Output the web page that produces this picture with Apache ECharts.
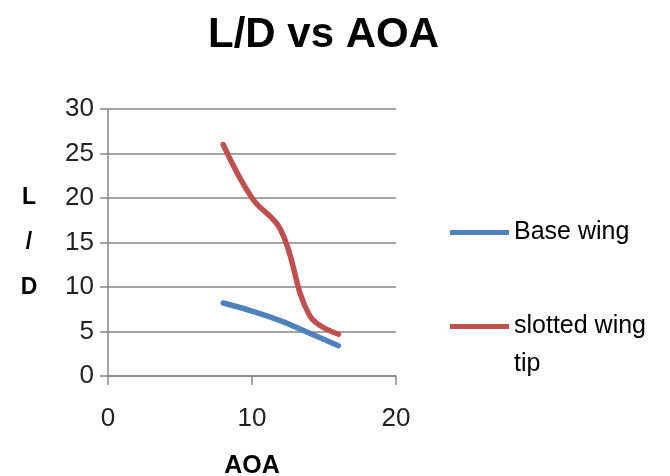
<!DOCTYPE html>
<html>
<head>
<meta charset="utf-8">
<script src="https://cdn.jsdelivr.net/npm/echarts@6/dist/echarts.min.js"></script>
<style>
  html, body { margin: 0; padding: 0; background: #fff; }
  #chart { width: 670px; height: 476px; }
</style>
</head>
<body>
<div id="chart"></div>
<script>
// Angle of attack (x) and lift-to-drag ratio for each wing
const aoa = [8, 10, 12, 14, 16];
const baseWing = [8.2, 7.3, 6.2, 4.8, 3.4];
const slottedWingTip = [26, 20, 16.4, 6.8, 4.7];
const xTicks = [0, 10, 20];
const yTicks = [0, 5, 10, 15, 20, 25, 30];

const FONT = '"Liberation Sans", Arial, sans-serif';
const AXIS_GREY = '#868686';

const chart = echarts.init(document.getElementById('chart'), null, { renderer: 'canvas' });

const pairs = ys => aoa.map((x, i) => [x, ys[i]]);

chart.setOption({
  animation: false,
  backgroundColor: '#ffffff',
  title: {
    text: 'L/D vs AOA',
    left: 208,
    top: 14,
    padding: 0,
    textStyle: { fontFamily: FONT, fontWeight: 'bold', fontSize: 42, color: '#000' }
  },
  grid: { left: 108, right: 274, top: 109, bottom: 100, containLabel: false, outerBoundsMode: 'none' },
  xAxis: {
    type: 'value',
    min: xTicks[0],
    max: xTicks[xTicks.length - 1],
    interval: xTicks[1] - xTicks[0],
    name: 'AOA',
    nameLocation: 'middle',
    nameGap: 78,
    nameTextStyle: { fontFamily: FONT, fontWeight: 'bold', fontSize: 25, color: '#000' },
    axisLine: { show: true, lineStyle: { color: AXIS_GREY, width: 1.5 } },
    axisTick: { show: true, length: 9, inside: false, lineStyle: { color: AXIS_GREY, width: 1.5 } },
    axisLabel: { fontFamily: FONT, fontSize: 26, color: '#222', margin: 30 },
    splitLine: { show: false }
  },
  yAxis: {
    type: 'value',
    min: yTicks[0],
    max: yTicks[yTicks.length - 1],
    interval: yTicks[1] - yTicks[0],
    name: 'L\n/\nD',
    nameLocation: 'middle',
    nameRotate: 0,
    nameGap: 79,
    nameTextStyle: { fontFamily: FONT, fontWeight: 'bold', fontSize: 23, color: '#000', lineHeight: 45, align: 'center', padding: [10, 0, 0, 0] },
    axisLine: { show: true, lineStyle: { color: AXIS_GREY, width: 1.5 } },
    axisTick: { show: true, length: 8, inside: false, lineStyle: { color: AXIS_GREY, width: 1.5 } },
    axisLabel: { fontFamily: FONT, fontSize: 26, color: '#222', margin: 14 },
    splitLine: { show: true, lineStyle: { color: AXIS_GREY, width: 1.5 } }
  },
  legend: [
    {
      data: ['Base wing'],
      orient: 'vertical',
      left: 450,
      top: 220,
      padding: 0,
      itemWidth: 59,
      itemHeight: 5,
      itemGap: 0,
      icon: 'rect',
      textStyle: { fontFamily: FONT, fontSize: 25, color: '#000' }
    },
    {
      data: ['slotted wing tip'],
      orient: 'vertical',
      left: 450,
      top: 314,
      padding: 0,
      itemWidth: 59,
      itemHeight: 5,
      itemGap: 0,
      icon: 'rect',
      formatter: () => 'slotted wing',
      textStyle: { fontFamily: FONT, fontSize: 25, color: '#000' }
    }
  ],
  graphic: [
    {
      type: 'text',
      left: 514,
      top: 352,
      style: { text: 'tip', font: '25px ' + FONT, fill: '#000' }
    }
  ],
  series: [
    {
      name: 'Base wing',
      type: 'line',
      data: pairs(baseWing),
      smooth: 0.4,
      showSymbol: false,
      symbol: 'none',
      lineStyle: { color: '#4F81BD', width: 5.5, cap: 'round' },
      itemStyle: { color: '#4F81BD' }
    },
    {
      name: 'slotted wing tip',
      type: 'line',
      data: pairs(slottedWingTip),
      smooth: 0.4,
      showSymbol: false,
      symbol: 'none',
      lineStyle: { color: '#C0504D', width: 5.5, cap: 'round' },
      itemStyle: { color: '#C0504D' }
    }
  ]
});
</script>
</body>
</html>
